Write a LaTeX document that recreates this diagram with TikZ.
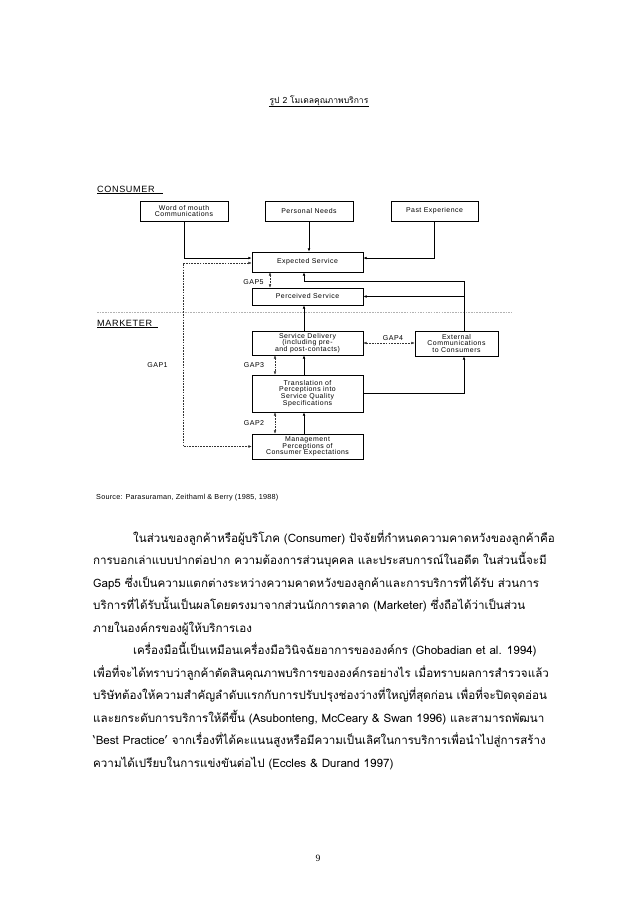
\documentclass[tikz,border=0pt]{standalone}
\usepackage{fontspec}
\setmainfont{Liberation Serif}
\newfontfamily\thaifont[Script=Thai]{Loma}
\newfontfamily\diagfont[LetterSpace=7]{Liberation Sans}
\newfontfamily\srcfont[LetterSpace=3]{Liberation Sans}
\usetikzlibrary{arrows.meta,positioning}
\newcommand{\pxu}{0.936pt}
\tikzset{
    block/.style = {draw, line width=0.6pt, align=center, inner sep=0.5pt, font=\diagfont\fontsize{6.5}{6.3}\selectfont},
    wide/.style = {block, minimum width=111*\pxu},
    flow/.style = {line width=0.6pt, -{Latex[length=3.2pt,width=2.6pt]}},
    gapline/.style = {line width=0.35pt, black!80, dash pattern=on 1.6pt off 1pt, {Latex[length=3pt,width=2.4pt]}-{Latex[length=3pt,width=2.4pt]}},
    gaplabel/.style = {inner sep=0pt, font=\diagfont\fontsize{6.6}{6.6}\selectfont},
    section/.style = {anchor=west, inner sep=0pt, font=\diagfont\fontsize{8.5}{8.5}\selectfont},
    body/.style = {anchor=base west, inner sep=0pt, font=\thaifont\fontsize{10.85}{13}\selectfont}
}
\begin{document}
\begin{tikzpicture}[x=0.936pt, y=-0.936pt]
        \useasboundingbox[fill=white] (0,0) rectangle (638,903);
        % title of the figure
        \node[inner sep=0.5pt, font=\thaifont\fontsize{8}{9}\selectfont] (caption) at (319,101) {รูป 2 โมเดลคุณภาพบริการ};
        \draw[line width=0.4pt] (caption.south west) -- (caption.south east);

        % consumer side
        \node[section] (consumer) at (97,189) {CONSUMER};
        \draw[line width=0.4pt] ([yshift=-1pt]consumer.south west) -- ++(66,0);
        \node[block, minimum width=88*\pxu, minimum height=20*\pxu] (mouth) at (184,211) {Word of mouth\\Communications};
        \node[block, minimum width=88*\pxu, minimum height=20*\pxu] (needs) at (309,211) {Personal Needs};
        \node[block, minimum width=87*\pxu, minimum height=20*\pxu] (past) at (434.5,211) {Past Experience};
        \node[wide, minimum height=20*\pxu] (expected) at (307.5,262) {Expected Service};
        \node[wide, minimum height=17*\pxu] (perceived) at (307.5,296.5) {Perceived Service};

        % line between consumer and marketer
        \draw[gray!60, line width=0.4pt, dash pattern=on 1.5pt off 1pt] (97,312) -- (512,312);

        % marketer side
        \node[section] (marketer) at (97,323) {MARKETER};
        \draw[line width=0.4pt] ([yshift=-1pt]marketer.south west) -- ++(61,0);
        \node[wide, minimum height=24*\pxu] (delivery) at (307.5,343) {Service Delivery\\(including pre-\\and post-contacts)};
        \node[block, minimum width=83*\pxu, minimum height=25*\pxu] (external) at (456.5,343.5) {External\\Communications\\to Consumers};
        \node[wide, minimum height=37*\pxu] (translation) at (307.5,393.5) {Translation of\\Perceptions into\\Service Quality\\Specifications};
        \node[wide, minimum height=25*\pxu] (manage) at (307.5,446.5) {Management\\Perceptions of\\Consumer Expectations};

        % columns of the connectors
        \coordinate (leftcol) at (183,0);
        \coordinate (midcol) at (304,0);
        \coordinate (extcol) at (464,0);
        \coordinate (gapfive) at (270,0);
        \coordinate (gapcol) at (275,0);
        \coordinate (backrow) at (0,281);

        % solid connectors
        \draw[flow] (mouth.south) |- ([yshift=3.7pt]expected.west);
        \draw[flow] (needs.south) -- (needs.south |- expected.north);
        \draw[flow] (past.south) |- ([yshift=3.7pt]expected.east);
        \draw[flow] (external.north -| extcol) |- (backrow -| midcol) -- (expected.south -| midcol);
        \draw[flow] (extcol |- perceived.east) -- (perceived.east);
        \draw[flow] (delivery.north -| midcol) -- (perceived.south -| midcol);
        \draw[flow] (translation.north -| midcol) -- (delivery.south -| midcol);
        \draw[flow] (manage.north -| midcol) -- (translation.south -| midcol);
        \draw[flow] (translation.east) -| (external.south -| extcol);

        % the gaps
        \draw[gapline] ([yshift=-0.9pt]expected.west) -| (leftcol |- manage.west) -- (manage.west);
        \draw[gapline] (expected.south -| gapfive) -- (perceived.north -| gapfive);
        \draw[gapline] (delivery.east) -- (delivery.east -| external.west);
        \draw[gapline] (delivery.south -| gapcol) -- (translation.north -| gapcol);
        \draw[gapline] (translation.south -| gapcol) -- (manage.north -| gapcol);
        \node[gaplabel] (gap1) at (157.5,365) {GAP1};
        \node[gaplabel] (gap5) at (253.5,282) {GAP5};
        \node[gaplabel] (gap4) at (393,338) {GAP4};
        \node[gaplabel] (gap3) at (254,365) {GAP3};
        \node[gaplabel] (gap2) at (254,423) {GAP2};

        % source of the model
        \node[anchor=west, inner sep=0pt, font=\srcfont\fontsize{6.8}{7}\selectfont] (source) at (96,498) {Source: Parasuraman, Zeithaml \& Berry (1985, 1988)};

        % text of the page
        \node[body] (line1) at (133,542) {ในส่วนของลูกค้าหรือผู้บริโภค (Consumer) ปัจจัยที่กำหนดความคาดหวังของลูกค้าคือ};
        \node[body] (line2) at (93,564.5) {การบอกเล่าแบบปากต่อปาก ความต้องการส่วนบุคคล และประสบการณ์ในอดีต ในส่วนนี้จะมี};
        \node[body] (line3) at (93,587) {Gap5 ซึ่งเป็นความแตกต่างระหว่างความคาดหวังของลูกค้าและการบริการที่ได้รับ ส่วนการ};
        \node[body] (line4) at (93,609.5) {บริการที่ได้รับนั้นเป็นผลโดยตรงมาจากส่วนนักการตลาด (Marketer) ซึ่งถือได้ว่าเป็นส่วน};
        \node[body] (line5) at (93,632) {ภายในองค์กรของผู้ให้บริการเอง};
        \node[body] (line6) at (133,654.5) {เครื่องมือนี้เป็นเหมือนเครื่องมือวินิจฉัยอาการขององค์กร (Ghobadian et al. 1994)};
        \node[body] (line7) at (93,677) {เพื่อที่จะได้ทราบว่าลูกค้าตัดสินคุณภาพบริการขององค์กรอย่างไร เมื่อทราบผลการสำรวจแล้ว};
        \node[body] (line8) at (93,699.5) {บริษัทต้องให้ความสำคัญลำดับแรกกับการปรับปรุงช่องว่างที่ใหญ่ที่สุดก่อน เพื่อที่จะปิดจุดอ่อน};
        \node[body] (line9) at (93,722) {และยกระดับการบริการให้ดีขึ้น (Asubonteng, McCeary \& Swan 1996) และสามารถพัฒนา};
        \node[body] (line10) at (93,744.5) {‘Best Practice’ จากเรื่องที่ได้คะแนนสูงหรือมีความเป็นเลิศในการบริการเพื่อนำไปสู่การสร้าง};
        \node[body] (line11) at (93,767) {ความได้เปรียบในการแข่งขันต่อไป (Eccles \& Durand 1997)};

        % page number
        \node[inner sep=0pt, font=\fontsize{9}{10}\selectfont] (pagenum) at (318,858) {9};
\end{tikzpicture}
\end{document}
